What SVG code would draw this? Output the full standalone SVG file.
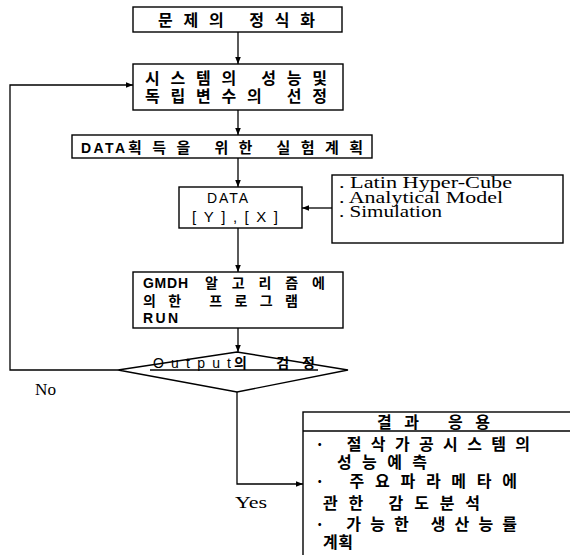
<svg xmlns="http://www.w3.org/2000/svg" width="570" height="555" viewBox="0 0 570 555">
<defs>
<marker id="ah" viewBox="0 0 10 10" refX="10" refY="5" markerWidth="7" markerHeight="7" orient="auto" markerUnits="userSpaceOnUse">
<path d="M0,1 L10,5 L0,9 z" fill="#000"/>
</marker>
<style>
.box{fill:#fff;stroke:#000;stroke-width:1.4}
.ln{fill:none;stroke:#000;stroke-width:1.3}
.ko{font-family:"Noto Sans CJK KR","Noto Sans",sans-serif;font-weight:700;fill:#000}
.la{font-family:"Liberation Sans","Noto Sans CJK KR",sans-serif;font-weight:700;fill:#000}
.lr{font-family:"Liberation Sans","Noto Sans CJK KR",sans-serif;font-weight:400;fill:#000}
.se{font-family:"Liberation Serif","DejaVu Serif",serif;fill:#000}
</style>
</defs>
<rect width="570" height="555" fill="#fff"/>
<g id="connectors">
<line class="ln" x1="238" y1="32" x2="238" y2="64" marker-end="url(#ah)"/>
<line class="ln" x1="238" y1="110" x2="238" y2="135" marker-end="url(#ah)"/>
<line class="ln" x1="238" y1="158" x2="238" y2="187" marker-end="url(#ah)"/>
<line class="ln" x1="332" y1="208" x2="302" y2="208" marker-end="url(#ah)"/>
<line class="ln" x1="238" y1="228" x2="238" y2="272" marker-end="url(#ah)"/>
<line class="ln" x1="238" y1="328" x2="238" y2="352" marker-end="url(#ah)"/>
<polyline class="ln" points="118,370 10,370 10,85 133,85" marker-end="url(#ah)"/>
<polyline class="ln" points="237,392 237,484 303,484" marker-end="url(#ah)"/>
<text class="se" x="35" y="395" font-size="17" textLength="21" lengthAdjust="spacingAndGlyphs">No</text>
<text class="se" x="235" y="508" font-size="17" textLength="32" lengthAdjust="spacingAndGlyphs">Yes</text>
</g>
<g id="n1">
<rect class="box" x="133" y="7" width="209" height="25"/>
<text class="ko" x="158" y="26" font-size="16" textLength="157" lengthAdjust="spacing">문제의 정식화</text>
</g>
<g id="n2">
<rect class="box" x="133" y="64" width="210" height="46"/>
<text class="ko" x="145" y="84" font-size="16" textLength="182" lengthAdjust="spacing">시스템의 성능및</text>
<text class="ko" x="145" y="102" font-size="16" textLength="182" lengthAdjust="spacing">독립변수의 선정</text>
</g>
<g id="n3">
<rect class="box" x="72" y="135" width="300" height="23"/>
<text class="la" x="81" y="153" font-size="14" textLength="44" lengthAdjust="spacing">DATA</text>
<text class="ko" x="128" y="153" font-size="15" textLength="235" lengthAdjust="spacing">획득을 위한 실험계획</text>
</g>
<g id="n4">
<rect class="box" x="179" y="187" width="123" height="41"/>
<text class="lr" x="207" y="203" font-size="14" textLength="41" lengthAdjust="spacing">DATA</text>
<text class="lr" x="192" y="222" font-size="15" textLength="86" lengthAdjust="spacing">[Y],[X]</text>
</g>
<g id="n5">
<rect class="box" x="332" y="175" width="231" height="68"/>
<text class="se" x="339" y="188" font-size="16" textLength="173" lengthAdjust="spacingAndGlyphs">. Latin Hyper-Cube</text>
<text class="se" x="339" y="203" font-size="16" textLength="164" lengthAdjust="spacingAndGlyphs">. Analytical Model</text>
<text class="se" x="339" y="217" font-size="16" textLength="103" lengthAdjust="spacingAndGlyphs">. Simulation</text>
</g>
<g id="n6">
<rect class="box" x="133" y="272" width="210" height="56"/>
<text class="la" x="143" y="288" font-size="14" textLength="45" lengthAdjust="spacing">GMDH</text>
<text class="ko" x="205" y="288" font-size="14" textLength="120" lengthAdjust="spacing">알고리즘에</text>
<text class="ko" x="143" y="306" font-size="14" textLength="155" lengthAdjust="spacing">의한 프로그램</text>
<text class="la" x="143" y="323" font-size="14" textLength="35" lengthAdjust="spacing">RUN</text>
</g>
<g id="n7">
<polygon class="box" points="118,370 237,352 348,370 237,392"/>
<text class="lr" x="153" y="368" font-size="14" textLength="78" lengthAdjust="spacing">Output</text>
<text class="ko" x="234" y="368" font-size="14" textLength="81" lengthAdjust="spacing">의 검정</text>
<line class="ln" x1="150" y1="370" x2="318" y2="370"/>
</g>
<g id="n8">
<rect class="box" x="303" y="412" width="300" height="160"/>
<line class="ln" x1="303" y1="431" x2="570" y2="431"/>
<text class="ko" x="377" y="428" font-size="16" textLength="113" lengthAdjust="spacing">결과 응용</text>
<text class="ko" x="315" y="450" font-size="16" textLength="215" lengthAdjust="spacing">· 절삭가공시스템의</text>
<text class="ko" x="337" y="468" font-size="16" textLength="90" lengthAdjust="spacing">성능예측</text>
<text class="ko" x="315" y="487" font-size="16" textLength="202" lengthAdjust="spacing">· 주요파라메타에</text>
<text class="ko" x="323" y="509" font-size="16" textLength="157" lengthAdjust="spacing">관한 감도분석</text>
<text class="ko" x="315" y="530" font-size="16" textLength="202" lengthAdjust="spacing">· 가능한 생산능률</text>
<text class="ko" x="323" y="548" font-size="16" textLength="30" lengthAdjust="spacing">계획</text>
</g>
</svg>
